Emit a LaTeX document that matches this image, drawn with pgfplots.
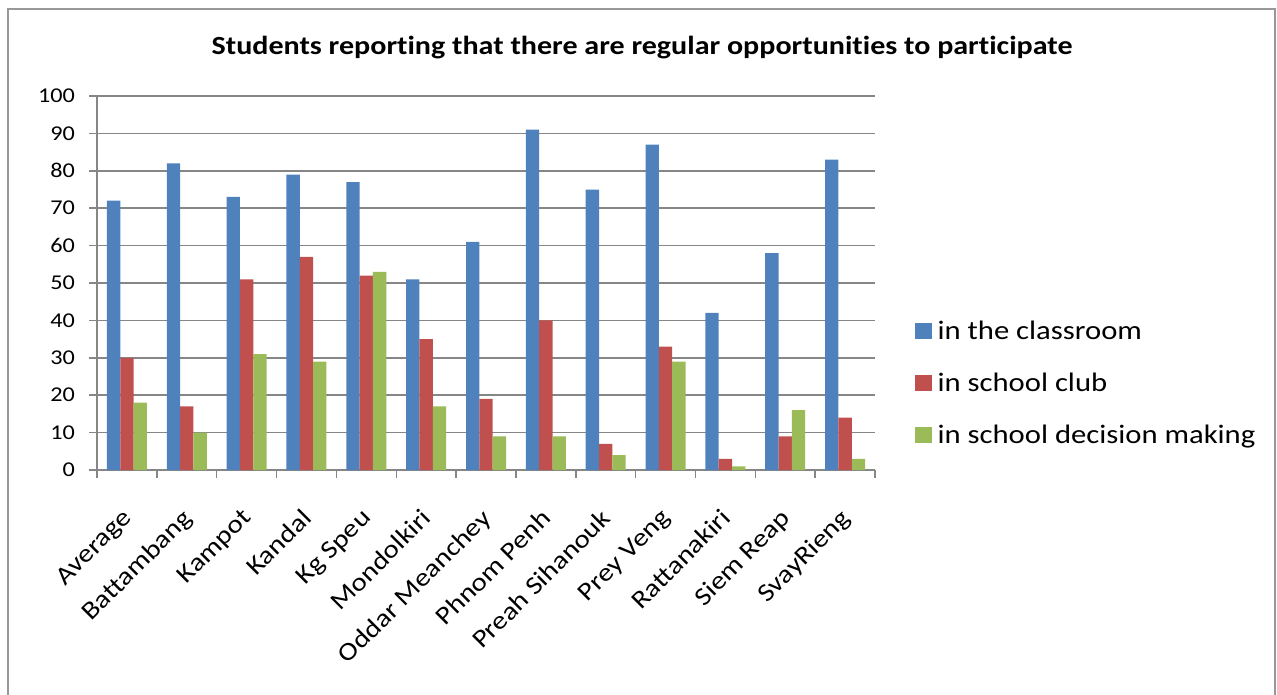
\documentclass[border=0pt]{standalone}
\usepackage{fontspec}
\setmainfont{Carlito}[FakeStretch=1.15, Ligatures={NoCommon}]
\usepackage{pgfplots}
\pgfplotsset{compat=1.18}
\definecolor{cblue}{HTML}{4F81BD}
\definecolor{cred}{HTML}{C0504D}
\definecolor{cgreen}{HTML}{9BBB59}
\definecolor{axgray}{RGB}{134,134,134}
\begin{document}
\begin{tikzpicture}[x=0.75pt,y=0.75pt]
\useasboundingbox (0,0) rectangle (1277,694);
\clip (0,0) rectangle (1277,694);
\draw[line width=1.5pt, color=axgray!85] (8,-20) -- (8,685) -- (1275,685) -- (1275,-20);
\node[font=\fontsize{19.6}{23}\selectfont\bfseries] at (642,646) {Students reporting that there are regular opportunities to participate};
\begin{axis}[
  at={(72.75pt,168pt)}, anchor=south west,
  scale only axis, width=583.5pt, height=280.5pt,
  xmin=0, xmax=13, ymin=0, ymax=100,
  ybar=0pt, bar width=10pt,
  xtick={0,...,13}, x tick label as interval,
  xticklabels={Average,Battambang,Kampot,Kandal,Kg Speu,Mondolkiri,Oddar Meanchey,Phnom Penh,Preah Sihanouk,Prey Veng,Rattanakiri,Siem Reap,SvayRieng},
  xticklabel style={xshift=-4.5pt, yshift=-19pt, rotate=45, anchor=north east, font=\fontsize{19}{22}\selectfont, inner sep=2pt},
  ytick={0,10,...,100},
  yticklabel style={font=\fontsize{15.8}{18}\selectfont, xshift=-7pt},
  /pgf/number format/assume math mode=true,
  axis x line*=bottom, axis y line*=left,
  axis line style={axgray, line width=1.1pt, -},
  tick align=outside, major tick length=6pt,
  tick style={axgray, line width=1.1pt},
  ymajorgrids, grid style={axgray, line width=1.1pt},
  legend style={at={(1.051,0.2326)}, anchor=west, draw=none, fill=none, inner sep=0pt,
    font=\fontsize{20}{24}\selectfont, row sep=19.5pt, cells={anchor=west},
    /tikz/every odd column/.append style={column sep=2.5pt}},
  legend cell align=left,
  legend image code/.code={\fill[#1] (0pt,-6.25pt) rectangle (12.5pt,6.25pt);},
  every axis plot/.append style={draw=none},
]
\addplot[fill=cblue] coordinates {(0.5,72) (1.5,82) (2.5,73) (3.5,79) (4.5,77) (5.5,51) (6.5,61) (7.5,91) (8.5,75) (9.5,87) (10.5,42) (11.5,58) (12.5,83)};
\addplot[fill=cred] coordinates {(0.5,30) (1.5,17) (2.5,51) (3.5,57) (4.5,52) (5.5,35) (6.5,19) (7.5,40) (8.5,7) (9.5,33) (10.5,3) (11.5,9) (12.5,14)};
\addplot[fill=cgreen] coordinates {(0.5,18) (1.5,10) (2.5,31) (3.5,29) (4.5,53) (5.5,17) (6.5,9) (7.5,9) (8.5,4) (9.5,29) (10.5,1) (11.5,16) (12.5,3)};
\legend{in the classroom,in school club,in school decision making}
\end{axis}
\end{tikzpicture}
\end{document}
